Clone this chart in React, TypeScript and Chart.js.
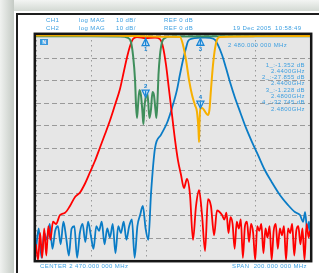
import React, { useEffect, useRef } from "react";
import { Chart, registerables } from "chart.js";
Chart.register(...registerables);

// Frequency axis (MHz) and level axis (dB)
const X_MIN = 2360;
const X_MAX = 2560;
const Y_MIN = -100;
const Y_MAX = 0;

// CH1 S21 (red)
const redFreq = [2360, 2361.5, 2363, 2364.5, 2366, 2367.5, 2369, 2370.5, 2372.4, 2374.6, 2377.5, 2381.2, 2384.8, 2388.5, 2392.1, 2395.8, 2399.4, 2403, 2406.7, 2410.4, 2414, 2417.7, 2421.3, 2424.2, 2426.4, 2428.6, 2430.8, 2433.7, 2440, 2446.9, 2450.5, 2452.7, 2454.9, 2457.1, 2459.3, 2461.5, 2463.6, 2465.8, 2468, 2470.2, 2472.4, 2474.6, 2476.8, 2479, 2481.2, 2483.4, 2485.5, 2487.7, 2490, 2492.1, 2495.8,
  2497.5, 2499, 2500.5, 2502, 2503.5, 2505, 2506.5, 2508, 2509.5, 2511, 2512.5, 2514, 2515.5, 2517, 2518.5, 2520, 2521.5, 2523, 2524.5, 2526, 2527.5, 2529, 2530.5, 2532, 2533.5, 2535, 2536.5, 2538, 2539.5, 2541, 2542.5, 2544, 2545.5, 2547, 2548.5, 2550, 2551.5, 2553, 2554.5, 2556, 2557.5, 2559, 2560];
const redDb = [-93, -100, -88, -99, -86, -98, -85, -91, -83, -84, -80, -79, -76, -72, -70, -66, -61, -56, -50, -44, -38, -31, -24, -16, -10, -5, -1.8, -0.9, -1.35, -1.1, -1.8, -5.3, -13.3, -24.4, -35.6, -46.7, -55.6, -62, -68, -64, -71, -91, -76, -69, -80, -96, -73, -76, -89, -78, -80,
  -82, -79, -88, -81, -84, -95, -83, -86, -82, -99, -85, -83, -92, -84, -88, -100, -85, -87, -84, -97, -86, -90, -85, -100, -87, -84, -95, -86, -89, -85, -100, -86, -88, -84, -98, -87, -85, -93, -86, -100, -84, -90, -87];

// CH2 S21 (blue)
const blueFreq = [2360, 2362, 2364, 2366, 2368, 2370, 2372, 2374, 2376, 2378, 2380, 2382, 2384, 2386, 2388, 2390, 2392, 2394, 2396, 2398, 2400, 2402, 2404, 2406, 2408, 2410, 2412, 2414, 2416, 2418, 2420, 2422, 2424, 2426, 2428, 2430, 2432, 2434, 2436, 2438, 2440, 2442, 2444, 2446.9, 2451.2, 2455.6, 2459.3, 2462.9, 2465, 2467.3, 2469.5, 2471, 2473.9, 2479.7, 2483.4, 2487, 2490.7, 2492.8, 2495.8, 2498.7, 2501.6, 2505.3, 2509, 2513.3, 2517.7, 2522, 2527, 2532, 2538, 2544, 2549, 2552.7, 2555, 2556.4, 2558, 2559.3, 2560];
const blueDb = [-95, -86, -99, -88, -91, -84, -95, -87, -85, -93, -83, -90, -98, -86, -85, -99, -88, -84, -92, -83, -89, -95, -85, -87, -83, -93, -86, -90, -84, -97, -85, -88, -83, -91, -85, -82, -99, -85, -80, -76, -86, -91, -70, -50.2, -44.4, -39.1, -32.4, -24.4, -17.8, -11.1, -5.8, -2.7, -1.6, -1.2, -1.1, -1.3, -2.2, -4.4, -8.9, -14.7, -20.9, -28, -34.2, -41.3, -47.6, -53.3, -60, -65.3, -71.1, -75.6, -78.7, -80, -83, -78.7, -86.7, -83, -88];

// CH1 S11 (green)
const greenFreq = [2360, 2400, 2421.3, 2427.2, 2429.3, 2430.8, 2432.3, 2433, 2433.7, 2434.5, 2435.5, 2436.6, 2437.7, 2438.4, 2439.1, 2440, 2441, 2441.8, 2442.8, 2443.9, 2445, 2446.1, 2447.2, 2447.9, 2448.7, 2449.4, 2450.5, 2452, 2454.2, 2457.8, 2500, 2560];
const greenDb = [-0.5, -0.6, -0.7, -1.3, -3.1, -8.9, -20, -31.1, -36.9, -31.1, -24.4, -26.7, -34.2, -39.6, -32.4, -27.9, -25.3, -28.9, -36.9, -33.3, -25.3, -26.7, -33.3, -36.9, -28.9, -17.8, -8.9, -3.1, -1.3, -0.7, -0.6, -0.5];

// CH2 S11 (orange)
const orangeFreq = [2360, 2420, 2460, 2465.1, 2467.3, 2469.5, 2471.7, 2473.9, 2476, 2477.5, 2478.6, 2479, 2479.3, 2480, 2481.2, 2482.6, 2484.1, 2485.5, 2486.6, 2487.7, 2489.2, 2490.7, 2492.1, 2494.3, 2520, 2560];
const orangeDb = [-0.2, -0.3, -0.8, -0.9, -4.4, -11.1, -20, -26.7, -31.1, -34.2, -42.2, -47.6, -40, -32.7, -32.4, -33.3, -34.7, -35.6, -33.3, -24.4, -13.3, -5.8, -2.2, -0.9, -0.5, -0.4];

// Markers
const markerIds = ["1", "2", "3", "4"];
const markerFreq = [2440, 2440, 2480, 2480];
const markerDb = [-1.352, -27.855, -1.228, -32.745];
const markerReadout = ["1_:-1.352 dB", "2.4400GHz", "2_:-27.855 dB", "2.4400GHz", "3_:-1.228 dB", "2.4800GHz", "4_:-32.745 dB", "2.4800GHz"];

const TXT = "#3d9fe0";
const FONT = '"Liberation Sans", Arial, sans-serif';

function pts(xs: number[], ys: number[]) {
  return xs.map((x, i) => ({ x, y: ys[i] }));
}

const screenPlugin = {
  id: "screen",
  beforeDatasetsDraw(chart: any) {
    const { ctx, chartArea: a, scales } = chart;
    ctx.save();
    ctx.fillStyle = "#e6e6e6";
    ctx.fillRect(a.left, a.top, a.right - a.left, a.bottom - a.top);
    ctx.strokeStyle = "#9a9a9a";
    ctx.lineWidth = 1;
    ctx.setLineDash([1.5, 3.5]);
    for (const t of scales.x.ticks) {
      const px = Math.round(scales.x.getPixelForValue(t.value)) + 0.5;
      ctx.beginPath();
      ctx.moveTo(px, a.top);
      ctx.lineTo(px, a.bottom);
      ctx.stroke();
    }
    ctx.setLineDash([5, 3]);
    for (const t of scales.y.ticks) {
      const py = Math.round(scales.y.getPixelForValue(t.value)) + 0.5;
      ctx.beginPath();
      ctx.moveTo(a.left, py);
      ctx.lineTo(a.right, py);
      ctx.stroke();
    }
    ctx.restore();
  },
  afterDatasetsDraw(chart: any) {
    const { ctx, chartArea: a, scales } = chart;
    ctx.save();
    markerFreq.forEach((f, i) => {
      const px = scales.x.getPixelForValue(f);
      const py = scales.y.getPixelForValue(markerDb[i]);
      const up = i % 2 === 0;
      const dir = up ? 1 : -1;
      ctx.beginPath();
      ctx.moveTo(px, py + dir * 0.5);
      ctx.lineTo(px - 3.5, py + dir * 7.5);
      ctx.lineTo(px + 3.5, py + dir * 7.5);
      ctx.closePath();
      ctx.fillStyle = "#cfe6f8";
      ctx.fill();
      ctx.strokeStyle = "#1a86d6";
      ctx.lineWidth = 1.3;
      ctx.stroke();
      ctx.beginPath();
      ctx.moveTo(px, py + dir * 2);
      ctx.lineTo(px, py + dir * 7);
      ctx.stroke();
      ctx.fillStyle = "#1a86d6";
      ctx.font = "bold 6px " + FONT;
      ctx.textAlign = "center";
      ctx.textBaseline = "middle";
      ctx.fillText(markerIds[i], px, py + dir * 11.5);
    });
    ctx.strokeStyle = "#161616";
    ctx.lineWidth = 2.5;
    ctx.setLineDash([]);
    ctx.strokeRect(a.left - 1.2, a.top - 1.2, a.right - a.left + 2.4, a.bottom - a.top + 2.4);
    ctx.restore();
  },
};

function Txt(props: { x: number; y: number; t: string; right?: boolean }) {
  const style: any = {
    position: "absolute",
    top: props.y - 3.5,
    fontFamily: FONT,
    fontSize: "6px",
    lineHeight: "7px",
    letterSpacing: "0.4px",
    color: TXT,
    whiteSpace: "pre",
  };
  if (props.right) style.right = 319 - props.x;
  else style.left = props.x;
  return <div style={style}>{props.t}</div>;
}

export default function App() {
  const ref = useRef<HTMLCanvasElement>(null);
  useEffect(() => {
    if (!ref.current) return;
    const chart = new Chart(ref.current, {
      type: "line",
      data: {
        datasets: [
          { data: pts(orangeFreq, orangeDb), borderColor: "#f7b000", borderWidth: 2, order: 1 },
          { data: pts(greenFreq, greenDb), borderColor: "#3f8f5c", borderWidth: 2, order: 2 },
          { data: pts(redFreq, redDb), borderColor: "#ff0000", borderWidth: 1.8, order: 3 },
          { data: pts(blueFreq, blueDb), borderColor: "#0a7cc6", borderWidth: 1.8, order: 4 },
        ],
      },
      options: {
        animation: false,
        responsive: false,
        maintainAspectRatio: false,
        events: [],
        layout: { padding: { left: 36, top: 35, right: 9, bottom: 13 } },
        elements: {
          point: { radius: 0 },
          line: { cubicInterpolationMode: "monotone", fill: false },
        },
        plugins: { legend: { display: false }, tooltip: { enabled: false }, title: { display: false } },
        scales: {
          x: { type: "linear", min: X_MIN, max: X_MAX, display: false, ticks: { stepSize: 20 } },
          y: { type: "linear", min: Y_MIN, max: Y_MAX, display: false, ticks: { stepSize: 10 } },
        },
      },
      plugins: [screenPlugin],
    } as any);
    return () => chart.destroy();
  }, []);

  return (
    <div style={{ position: "absolute", left: 0, top: 0, width: 319, height: 273, overflow: "hidden", background: "#ffffff" }}>
      <div style={{ position: "absolute", left: 0, top: 0, width: 319, height: 11, background: "linear-gradient(to bottom, #f3f5f3, #d3d9d3)" }} />
      <div style={{ position: "absolute", left: 0, top: 0, width: 14, height: 273, background: "linear-gradient(to right, #f0f2f0, #c4cac4)" }} />
      <div style={{ position: "absolute", left: 16, top: 13, width: 303, height: 1.5, background: "#1e1e1e" }} />
      <div style={{ position: "absolute", left: 16, top: 13, width: 1.5, height: 260, background: "#1e1e1e" }} />
      <canvas ref={ref} width={319} height={273} style={{ position: "absolute", left: 0, top: 0, width: 319, height: 273 }} />
      <Txt x={46} y={20.5} t="CH1" />
      <Txt x={79} y={20.5} t="log MAG" />
      <Txt x={116} y={20.5} t="10 dB/" />
      <Txt x={164} y={20.5} t="REF 0 dB" />
      <Txt x={46} y={28.5} t="CH2" />
      <Txt x={79} y={28.5} t="log MAG" />
      <Txt x={116} y={28.5} t="10 dB/" />
      <Txt x={164} y={28.5} t="REF 0 dB" />
      <Txt x={233} y={28.5} t="19 Dec 2005" />
      <Txt x={275} y={28.5} t="10:58:49" />
      <Txt x={228} y={45} t="2 480.000 000 MHz" />
      {markerReadout.map((t, i) => (
        <Txt key={i} x={305} y={65 + i * 6.3} t={t} right />
      ))}
      <Txt x={40} y={266.5} t="CENTER 2 470.000 000 MHz" />
      <Txt x={307} y={266.5} t="SPAN  200.000 000 MHz" right />
      <div style={{ position: "absolute", left: 40, top: 39, width: 8, height: 6, background: "#3a98dc", color: "#fff", fontFamily: FONT, fontSize: "5px", fontWeight: "bold", lineHeight: "6px", textAlign: "center" }}>N</div>
    </div>
  );
}
